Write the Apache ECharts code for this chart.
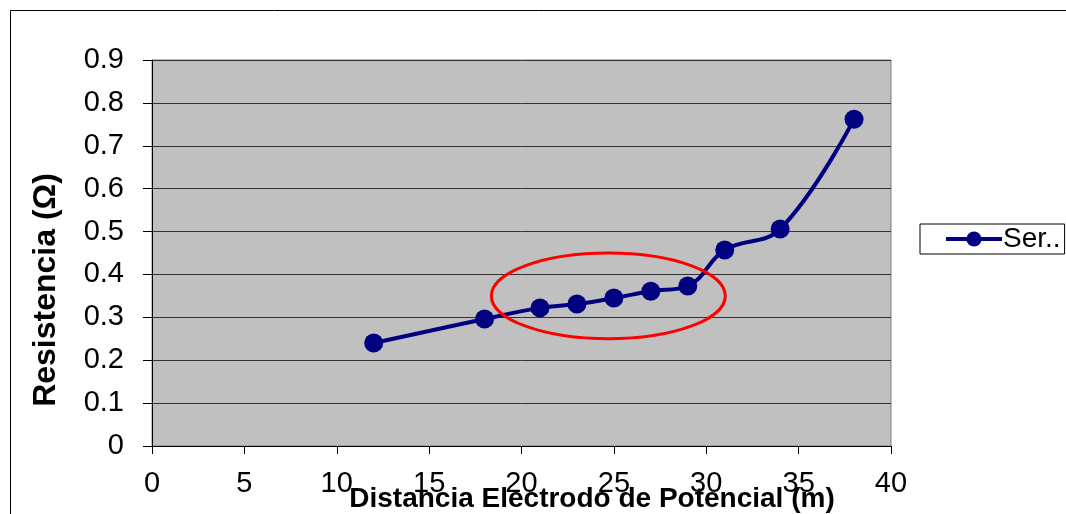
<!DOCTYPE html>
<html>
<head>
<meta charset="utf-8">
<script src="https://cdn.jsdelivr.net/npm/echarts@6/dist/echarts.min.js"></script>
<style>
  html, body { margin: 0; padding: 0; background: #fff; }
  #chart { width: 1066px; height: 514px; }
</style>
</head>
<body>
<div id="chart"></div>
<script>
// distancia (m) / resistencia (ohm)
const distances = [12, 18, 21, 23, 25, 27, 29, 31, 34, 38]
const resistances = [0.24, 0.296, 0.322, 0.331, 0.345, 0.361, 0.373, 0.457, 0.506, 0.762]
const seriesName = 'Ser..'
const xTitle = 'Distancia Electrodo de Potencial (m)'
const yTitle = 'Resistencia (Ω)'
// red ellipse marking the flat zone: [cx, cy, rx, ry] in data units
const highlight = [[24.7, 0.35, 6.33, 0.1]]

const font = 'Liberation Sans, Arial, sans-serif'
const chart = echarts.init(document.getElementById('chart'))

chart.setOption({
  animation: false,
  // excel centres the axis titles on the whole chart area, not the plot
  graphic: [
    {
      type: 'rect',
      shape: { x: 10.5, y: 10.5, width: 1200, height: 700 },
      style: { fill: 'none', stroke: '#000', lineWidth: 1 },
      z: -10
    },
    {
      type: 'text',
      x: 592,
      y: 499,
      style: {
        text: xTitle, fill: '#000', align: 'center', verticalAlign: 'middle',
        font: 'bold 28px ' + font
      }
    },
    {
      type: 'text',
      x: 46,
      y: 290,
      rotation: Math.PI / 2,
      style: {
        text: yTitle, fill: '#000', align: 'center', verticalAlign: 'middle',
        font: 'bold 32px ' + font
      }
    }
  ],
  grid: {
    left: 152,
    top: 60,
    right: 175,
    bottom: 68,
    containLabel: false,
    outerBoundsMode: 'none',
    show: true,
    backgroundColor: '#C0C0C0',
    borderColor: '#808080',
    borderWidth: 1
  },
  legend: {
    data: [{
      name: seriesName,
      lineStyle: { width: 4, color: '#000080' },
      itemStyle: { color: '#000080' }
    }],
    left: 920,
    top: 224,
    orient: 'vertical',
    backgroundColor: '#fff',
    borderColor: '#000',
    borderWidth: 1,
    padding: [1, 4, 1, 24],
    itemWidth: 56,
    itemHeight: 19,
    itemGap: 0,
    textStyle: { fontFamily: font, fontSize: 28, color: '#000', padding: [0, 0, 0, -4] }
  },
  xAxis: {
    type: 'value',
    min: 0,
    max: 40,
    interval: 5,
    axisLine: { show: true, lineStyle: { color: '#000', width: 1 } },
    axisTick: { show: true, length: 8, lineStyle: { color: '#000' } },
    axisLabel: { margin: 23, fontFamily: font, fontSize: 29, color: '#000' },
    splitLine: { show: false }
  },
  yAxis: {
    type: 'value',
    min: 0,
    max: 0.9,
    interval: 0.1,
    axisLine: { show: true, lineStyle: { color: '#000', width: 1 } },
    axisTick: { show: true, length: 9, lineStyle: { color: '#000' } },
    axisLabel: { margin: 28, fontFamily: font, fontSize: 29, color: '#000' },
    splitLine: { show: true, lineStyle: { color: '#333', width: 1 } }
  },
  series: [
    {
      name: seriesName,
      type: 'line',
      data: distances.map((d, i) => [d, resistances[i]]),
      smooth: 0.4,
      symbol: 'circle',
      symbolSize: 19,
      lineStyle: { color: '#000080', width: 4 },
      itemStyle: { color: '#000080' },
      z: 2
    },
    {
      type: 'custom',
      data: highlight,
      z: 3,
      silent: true,
      renderItem(params, api) {
        const c = api.coord([api.value(0), api.value(1)])
        const s = api.size([api.value(2), api.value(3)])
        return {
          type: 'ellipse',
          shape: { cx: c[0], cy: c[1], rx: s[0], ry: s[1] },
          style: { fill: 'none', stroke: '#FF0000', lineWidth: 3 }
        }
      }
    }
  ]
})
</script>
</body>
</html>
